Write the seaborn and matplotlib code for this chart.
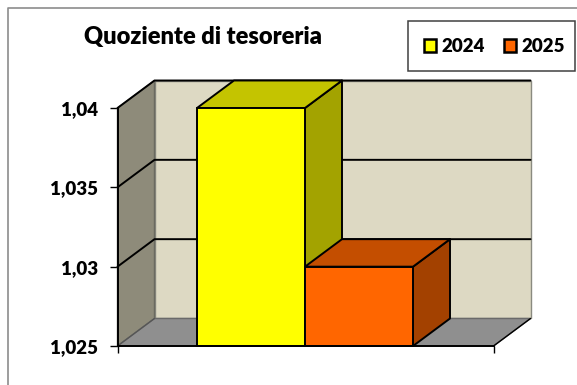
import matplotlib
matplotlib.use("Agg")
import matplotlib.pyplot as plt
import seaborn as sns
import pandas as pd
from matplotlib.patches import Polygon, Rectangle
from matplotlib.lines import Line2D

years = ["2024", "2025"]
values = [1.04, 1.03]
y_ticks = [1.025, 1.03, 1.035, 1.04]
y_labels = ["1,025", "1,03", "1,035", "1,04"]
title = "Quoziente di tesoreria"
front_colors = ["#FFFF00", "#FF6600"]
top_colors = ["#C4C400", "#C44E00"]
side_colors = ["#A3A300", "#A34100"]

W, H = 577, 385
sns.set_theme(style="white")
plt.rcParams["font.family"] = ["Lato", "DejaVu Sans"]
plt.rcParams["font.weight"] = "bold"

fig = plt.figure(figsize=(W / 100, H / 100), dpi=100, facecolor="white")
L, R, T, B = 117.5, 493.5, 108, 346
ax = fig.add_axes([L / W, 1 - B / H, (R - L) / W, (B - T) / H])
ax.set_facecolor("none")

df = pd.DataFrame({"year": years, "value": values})
sns.barplot(data=df, x="year", y="value", hue="year", palette=front_colors,
            saturation=1, width=1.0, dodge=False, edgecolor="black", linewidth=1.4, ax=ax,
            legend=True, zorder=6)

ppx = 108.0  # pixels per category
x0, x1 = (L - 251) / ppx, (R - 251) / ppx
y0, y1 = y_ticks[0], y_ticks[-1]
ax.set_xlim(x0, x1)
ax.set_ylim(y0, y1)
dx = 37 / ppx
dy = (y1 - y0) * 27.5 / (B - T)


def poly(pts, fc, ec="black", lw=1.4, z=2):
    ax.add_patch(Polygon(pts, closed=True, facecolor=fc, edgecolor=ec, linewidth=lw,
                         zorder=z, clip_on=False, joinstyle="round"))


bars = list(ax.patches)[:2]

# back wall, left wall, floor
poly([(x0 + dx, y0 + dy), (x1 + dx, y0 + dy), (x1 + dx, y1 + dy), (x0 + dx, y1 + dy)],
     "#DDD9C3", ec="#8A8A80", lw=1.0, z=1)
poly([(x0, y0), (x0 + dx, y0 + dy), (x0 + dx, y1 + dy), (x0, y1)],
     "#8E8B7A", ec="#6A6A60", lw=1.0, z=1)
poly([(x0, y0), (x1, y0), (x1 + dx, y0 + dy), (x0 + dx, y0 + dy)],
     "#8F8F8F", ec="#6A6A6A", lw=1.0, z=1.5)

# gridlines and top edge across the left wall and back wall
for v in y_ticks[1:]:
    ax.add_line(Line2D([x0, x0 + dx, x1 + dx], [v, v + dy, v + dy], color="black",
                       linewidth=1.4, zorder=2, clip_on=False))
ax.add_line(Line2D([x0, x0 + dx], [y0, y0 + dy], color="#555555", linewidth=0.9, zorder=2, clip_on=False))
ax.add_line(Line2D([x1, x1 + dx], [y0, y0 + dy], color="black", linewidth=1.0, zorder=2, clip_on=False))

# 3-D faces of the bars; front faces start at the axis base
for i, patch in enumerate(bars):
    top = patch.get_y() + patch.get_height()
    patch.set_y(y0)
    patch.set_height(top - y0)
    patch.set_clip_on(False)
    xa = patch.get_x()
    xb = xa + patch.get_width()
    z = 3 + i
    poly([(xb, y0), (xb + dx, y0 + dy), (xb + dx, top + dy), (xb, top)], side_colors[i], z=z)
    poly([(xa, top), (xb, top), (xb + dx, top + dy), (xa + dx, top + dy)], top_colors[i], z=z)

# axes
for s in ["top", "right"]:
    ax.spines[s].set_visible(False)
for s in ["left", "bottom"]:
    ax.spines[s].set_visible(True)
    ax.spines[s].set_color("black")
    ax.spines[s].set_linewidth(1.4)
    ax.spines[s].set_zorder(7)
ax.set_xlabel("")
ax.set_ylabel("")
ax.set_yticks(y_ticks, y_labels)
ax.set_xticks([x0, x1], ["", ""])
ax.tick_params(axis="y", left=True, length=6, width=1.0, color="black", pad=8,
               labelsize=13.5, labelcolor="black")
ax.tick_params(axis="x", bottom=True, length=5, width=1.0, color="black")
for t in ax.get_yticklabels():
    t.set_fontweight("heavy")

# title
fig.text(203 / W, 1 - 37 / H, title, ha="center", va="center", fontsize=17,
         fontweight="heavy", color="black")

# legend frame, then the entries inside it
fig.add_artist(Rectangle((407.5 / W, 1 - 71 / H), 167 / W, 50 / H, transform=fig.transFigure,
                         facecolor="white", edgecolor="#404040", linewidth=1.1))
handles, labels = ax.get_legend_handles_labels()
if ax.get_legend():
    ax.get_legend().remove()
leg = fig.legend(handles, labels, ncol=2, loc="upper right",
                 bbox_to_anchor=(564.5 / W, 1 - 38 / H), frameon=False,
                 handlelength=0.65, handleheight=0.65, labelcolor="black",
                 handletextpad=0.27, columnspacing=1.0, borderpad=0, borderaxespad=0,
                 prop={"weight": "heavy", "size": 13.5})
for h in leg.legend_handles:
    h.set_linewidth(1.8)

# chart frame
fig.add_artist(Line2D([7.5 / W, 7.5 / W, 1], [0, 1 - 7.5 / H, 1 - 7.5 / H],
                      transform=fig.transFigure, color="#8C8C8C", linewidth=1.2))

fig.savefig("out.png", dpi=100, facecolor="white")
